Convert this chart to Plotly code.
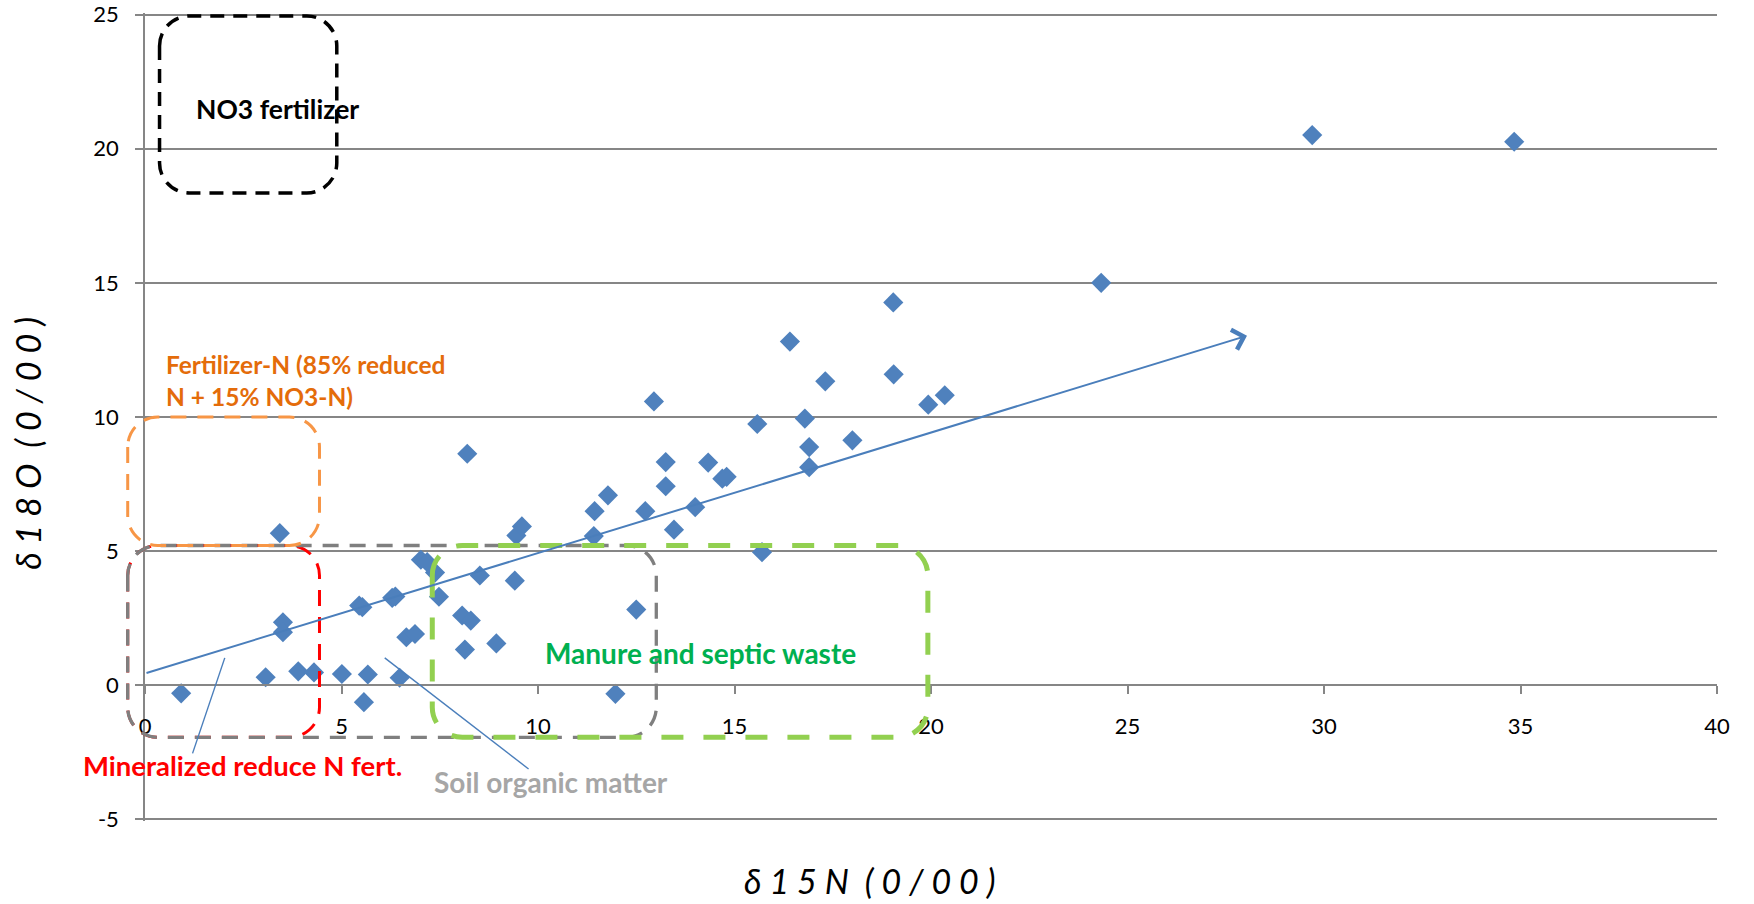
import plotly.graph_objects as go

# ---------------- data ----------------
d15N = [0.92, 3.07, 3.43, 3.51, 3.51, 3.90, 4.30, 5.01, 5.45, 5.53, 5.57, 5.67,
        6.29, 6.37, 6.48, 6.65, 6.87, 7.02, 7.18, 7.38, 7.48, 8.07, 8.14, 8.20,
        8.29, 8.52, 8.94, 9.41, 9.45, 9.59, 11.44, 11.42, 11.78, 11.97, 12.50,
        12.73, 12.95, 13.25, 13.25, 13.46, 14.00, 14.33, 14.69, 14.80, 15.58,
        15.70, 16.41, 16.79, 16.90, 16.90, 17.31, 18.00, 19.04, 19.05, 19.93,
        20.35, 24.33, 29.70, 34.84]
d18O = [-0.30, 0.30, 5.67, 2.35, 1.98, 0.52, 0.48, 0.42, 2.97, 2.91, -0.63, 0.40,
        3.26, 3.31, 0.28, 1.79, 1.91, 4.68, 4.59, 4.20, 3.30, 2.60, 1.33, 8.63,
        2.41, 4.09, 1.56, 3.90, 5.58, 5.92, 6.49, 5.56, 7.08, -0.32, 2.82,
        6.49, 10.58, 8.32, 7.42, 5.80, 6.64, 8.30, 7.70, 7.77, 9.74,
        4.96, 12.81, 9.94, 8.88, 8.13, 11.33, 9.13, 14.27, 11.59, 10.46,
        10.81, 15.00, 20.51, 20.26]

x_ticks = [0, 5, 10, 15, 20, 25, 30, 35, 40]
x_tick_labels = ["0", "5", "10", "15", "20", "25", "30", "35", "40"]
y_ticks = [-5, 0, 5, 10, 15, 20, 25]
y_tick_labels = ["-5", "0", "5", "10", "15", "20", "25"]

# source-zone boxes (data units)
zone_names = ["Mineralized reduce N fert.", "Soil organic matter",
              "Fertilizer-N", "NO3 fertilizer", "Manure and septic waste"]
zone_x0 = [-0.44, -0.44, -0.44, 0.37, 7.31]
zone_x1 = [4.44, 13.01, 4.44, 4.88, 19.92]
zone_y0 = [-1.94, -1.94, 5.21, 18.35, -1.94]
zone_y1 = [5.21, 5.21, 10.0, 24.95, 5.21]
zone_color = ["#FF0000", "#7F7F7F", "#F79646", "#000000", "#92D050"]
zone_width = [3, 3.3, 3, 3.5, 5]
zone_dash = ["16px,11px", "16px,11px", "16px,11px", "14px,9px", "22px,20px"]

# trend arrow (start -> end)
trend_start = (0.0, 0.44)
trend_end = (28.04, 13.03)

# pointer lines (x0, y0, x1, y1)
pointer_lines = [(1.21, -2.54, 2.03, 1.02), (6.10, 1.02, 9.76, -3.12)]

# labels: text, x, y, color, xanchor, align, size
labels = [
    ("NO3 fertilizer", 3.36, 21.5, "#000000", "center", "center", 26.5),
    ("Fertilizer-N (85% reduced<br>N + 15% NO3-N)", 0.48, 11.37, "#E46C0A", "left", "left", 24.5),
    ("Mineralized reduce N fert.", 2.49, -3.0, "#FF0000", "center", "center", 27.5),
    ("Soil organic matter", 10.32, -3.59, "#A6A6A6", "center", "center", 28),
    ("Manure and septic waste", 14.14, 1.19, "#00B050", "center", "center", 28),
]

XR = [0, 40]
YR = [-5.06, 25.06]
W, H = 1754, 904
ML, MR, MT, MB = 145.4, 37, 12.9, 83.4
PW, PH = W - ML - MR, H - MT - MB

FONT = "Lato"
AX = "#868686"

fig = go.Figure()
fig.add_trace(go.Scatter(
    x=d15N, y=d18O, mode="markers",
    marker=dict(symbol="diamond", size=15.5, color="#4F81BD", line=dict(width=0)),
    showlegend=False, cliponaxis=False, hoverinfo="skip"))


def px(x):
    return (x - XR[0]) / (XR[1] - XR[0])


def py(y):
    return (y - YR[0]) / (YR[1] - YR[0])


def rounded_path(x0, x1, y0, y1, r=30):
    a0, a1, b0, b1 = px(x0), px(x1), py(y0), py(y1)
    rx, ry = r / PW, r / PH
    k = 0.5523
    # start on the left edge, go down, along bottom, up right, back along top
    p = (f"M{a0},{b1-ry} L{a0},{b0+ry} "
         f"C{a0},{b0+ry-k*ry} {a0+rx-k*rx},{b0} {a0+rx},{b0} "
         f"L{a1-rx},{b0} "
         f"C{a1-rx+k*rx},{b0} {a1},{b0+ry-k*ry} {a1},{b0+ry} "
         f"L{a1},{b1-ry} "
         f"C{a1},{b1-ry+k*ry} {a1-rx+k*rx},{b1} {a1-rx},{b1} "
         f"L{a0+rx},{b1} "
         f"C{a0+rx-k*rx},{b1} {a0},{b1-ry+k*ry} {a0},{b1-ry} Z")
    return p


for i in range(len(zone_names)):
    fig.add_shape(type="path", xref="paper", yref="paper",
                  path=rounded_path(zone_x0[i], zone_x1[i], zone_y0[i], zone_y1[i]),
                  line=dict(color=zone_color[i], width=zone_width[i], dash=zone_dash[i]),
                  fillcolor="rgba(0,0,0,0)", layer="above")

for (x0, y0, x1, y1) in pointer_lines:
    fig.add_shape(type="line", xref="x", yref="y", x0=x0, y0=y0, x1=x1, y1=y1,
                  line=dict(color="#4A7EBB", width=1.4), layer="above")

fig.add_annotation(x=trend_end[0], y=trend_end[1], ax=trend_start[0], ay=trend_start[1],
                   xref="x", yref="y", axref="x", ayref="y", text="",
                   showarrow=True, arrowhead=4, arrowsize=2, arrowwidth=2,
                   arrowcolor="#4A7EBB", standoff=0, startstandoff=0)

for text, x, y, c, xa, al, sz in labels:
    fig.add_annotation(x=x, y=y, xref="x", yref="y", text=text, showarrow=False,
                       xanchor=xa, yanchor="middle", align=al,
                       font=dict(family=FONT, size=sz, color=c, weight="bold"))

# axis titles
title_font = dict(family=FONT, size=34, color="#000000", style="italic")
plot_bottom = H - MB
fig.add_annotation(x=(870 - ML) / PW, y=(plot_bottom - 880) / PH, xref="paper", yref="paper",
                   text="δ 1 5 N  ( 0 / 0 0 )", showarrow=False,
                   xanchor="center", yanchor="middle", font=title_font)
fig.add_annotation(x=(28 - ML) / PW, y=(plot_bottom - 443) / PH, xref="paper", yref="paper",
                   text="δ 1 8 O  ( 0 / 0 0 )", showarrow=False, textangle=-90,
                   xanchor="center", yanchor="middle", font=title_font)

fig.update_layout(
    width=W, height=H,
    margin=dict(l=ML, r=MR, t=MT, b=MB, autoexpand=False),
    plot_bgcolor="white", paper_bgcolor="white",
    font=dict(family=FONT, size=22, color="#000000"),
    xaxis=dict(range=XR, tickvals=x_ticks, ticktext=x_tick_labels,
               showgrid=False, zeroline=False,
               showline=True, linecolor=AX, linewidth=1.5,
               ticks="outside", ticklen=8, tickwidth=1.5, tickcolor=AX,
               anchor="free", position=py(0), ticklabelstandoff=14,
               automargin=False, ticklabeloverflow="allow",
               tickfont=dict(family=FONT, size=22, color="#000000")),
    yaxis=dict(range=YR, tickvals=y_ticks, ticktext=y_tick_labels,
               showgrid=True, gridcolor=AX, gridwidth=1.5,
               zeroline=False, showline=True, linecolor=AX, linewidth=1.5,
               ticks="outside", ticklen=8, tickwidth=1.5, tickcolor=AX,
               ticklabelstandoff=12, automargin=False, ticklabeloverflow="allow",
               tickfont=dict(family=FONT, size=22, color="#000000")),
)

fig.write_html("out.html",
               config={"displayModeBar": False},
               post_script="document.body.style.margin='0px';document.body.style.overflow='hidden';")
